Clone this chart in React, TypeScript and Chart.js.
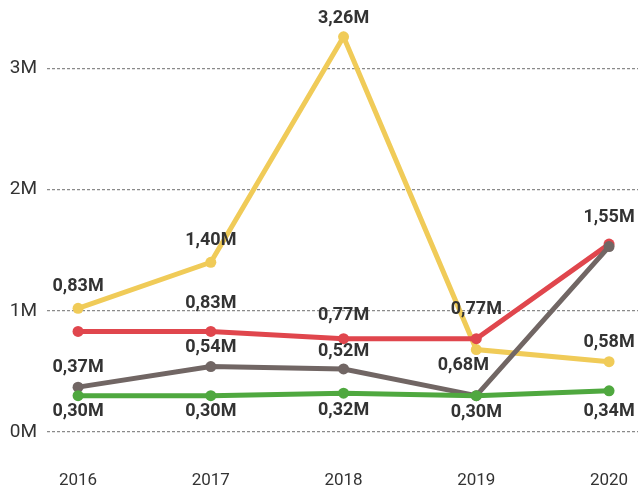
import React, { useEffect, useRef } from "react";
import { Chart, registerables } from "chart.js";

Chart.register(...registerables);

const categories = ["2016", "2017", "2018", "2019", "2020"];
const yTickLabels = ["0M", "1M", "2M", "3M"];

const yellowValues = [1.02, 1.4, 3.26, 0.68, 0.58];
const redValues = [0.83, 0.83, 0.77, 0.77, 1.55];
const grayValues = [0.37, 0.54, 0.52, 0.3, 1.53];
const greenValues = [0.3, 0.3, 0.32, 0.3, 0.34];

const yellowLabels = ["0,83M", "1,40M", "3,26M", "0,68M", "0,58M"];
const redLabels = [null, "0,83M", "0,77M", "0,77M", "1,55M"];
const grayLabels = ["0,37M", "0,54M", "0,52M", "0,30M", null];
const greenLabels = ["0,30M", "0,30M", "0,32M", null, "0,34M"];

// label placement (dx, dy from point, in px)
const yellowPlace = [[0, -22], [0, -22], [0, -18], [-13, 16], [0, -19]];
const redPlace = [[0, -27], [0, -28], [0, -23], [0, -29], [0, -27]];
const grayPlace = [[0, -20], [0, -19], [0, -17], [0, 17], [0, -20]];
const greenPlace = [[0, 16], [0, 16], [0, 17], [0, 17], [0, 21]];

const FONT = "Roboto, 'Noto Sans', sans-serif";

const labelPlugin = {
  id: "pointLabels",
  afterDatasetsDraw(chart: any) {
    const ctx = chart.ctx;
    ctx.save();
    ctx.font = `bold 18px ${FONT}`;
    ctx.fillStyle = "#333333";
    ctx.textAlign = "center";
    ctx.textBaseline = "middle";
    chart.data.datasets.forEach((ds: any, di: number) => {
      const meta = chart.getDatasetMeta(di);
      meta.data.forEach((pt: any, i: number) => {
        const txt = ds.pointLabels[i];
        if (!txt) return;
        const [dx, dy] = ds.labelPlace[i];
        ctx.fillText(txt, pt.x + dx, pt.y + dy);
      });
    });
    ctx.restore();
  },
};

function makeDataset(values: number[], color: string, labels: any[], place: number[][]) {
  return {
    data: values.map((v, i) => ({ x: Number(categories[i]), y: v })),
    borderColor: color,
    backgroundColor: color,
    borderWidth: 5,
    pointRadius: 5.5,
    pointHoverRadius: 5.5,
    pointBorderWidth: 0,
    tension: 0,
    clip: false,
    pointLabels: labels,
    labelPlace: place,
  } as any;
}

export default function App() {
  const ref = useRef<HTMLCanvasElement>(null);
  useEffect(() => {
    if (!ref.current) return;
    const chart = new Chart(ref.current, {
      type: "line",
      data: {
        datasets: [
          makeDataset(greenValues, "#4FA83F", greenLabels, greenPlace),
          makeDataset(grayValues, "#716664", grayLabels, grayPlace),
          makeDataset(redValues, "#E0464D", redLabels, redPlace),
          makeDataset(yellowValues, "#F0CB58", yellowLabels, yellowPlace),
        ],
      },
      options: {
        animation: false,
        responsive: false,
        maintainAspectRatio: false,
        layout: { autoPadding: false, padding: { top: 32, right: 0, left: 0, bottom: 0 } },
        plugins: { legend: { display: false }, tooltip: { enabled: false } },
        scales: {
          x: {
            type: "linear",
            min: 2015.766,
            max: 2020.218,
            grid: { display: false },
            border: { display: false },
            afterBuildTicks(scale: any) {
              scale.ticks = categories.map((c) => ({ value: Number(c) }));
            },
            afterFit(scale: any) {
              scale.height = 55;
              scale.paddingLeft = 0;
              scale.paddingRight = 0;
            },
            ticks: {
              padding: 31,
              maxRotation: 0,
              color: "#333333",
              font: { family: FONT, size: 17 },
              callback: (v: any) => String(v),
            },
          },
          y: {
            min: 0,
            max: 3.3,
            grid: { color: "#8a8a8a", lineWidth: 1.2, tickLength: 0, drawTicks: false },
            border: { display: false, dash: [3, 2] },
            afterBuildTicks(scale: any) {
              scale.ticks = yTickLabels.map((_, i) => ({ value: i }));
            },
            afterFit(scale: any) {
              scale.width = 47;
              scale.paddingTop = 0;
              scale.paddingBottom = 0;
            },
            ticks: {
              padding: 10,
              color: "#333333",
              font: { family: FONT, size: 19 },
              callback: (v: any) => yTickLabels[v] ?? "",
            },
          },
        },
      } as any,
      plugins: [labelPlugin],
    });
    return () => chart.destroy();
  }, []);
  return (
    <div style={{ position: "fixed", left: 0, top: 0, width: 638, height: 487, background: "#fff" }}>
      <canvas ref={ref} width={638} height={487} style={{ width: 638, height: 487 }} />
    </div>
  );
}
